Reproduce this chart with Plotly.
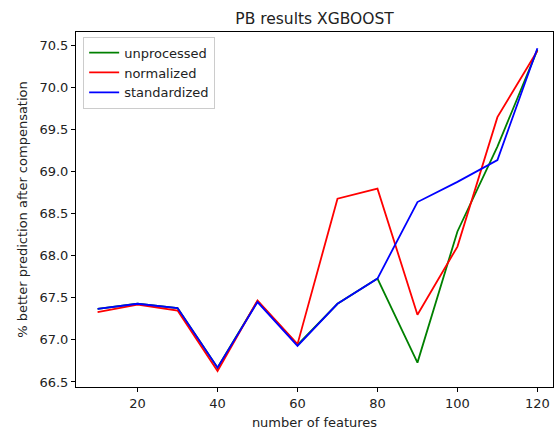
import plotly.graph_objects as go

# Number of features used by the model
n_features = [10, 20, 30, 40, 50, 60, 70, 80, 90, 100, 110, 120]

# % better prediction after compensation for each preprocessing variant
unprocessed = [67.37, 67.43, 67.38, 66.67, 67.46, 66.94, 67.43, 67.73, 66.73, 68.29, 69.30, 70.45]
normalized = [67.33, 67.42, 67.35, 66.63, 67.47, 66.95, 68.68, 68.80, 67.30, 68.11, 69.65, 70.44]
standardized = [67.37, 67.43, 67.38, 66.67, 67.45, 66.93, 67.43, 67.73, 68.64, 68.88, 69.14, 70.47]

y_ticks = [66.5, 67.0, 67.5, 68.0, 68.5, 69.0, 69.5, 70.0, 70.5]
x_ticks = [20, 40, 60, 80, 100, 120]

FONT = "DejaVu Sans"
TEXT = "#222"

fig = go.Figure()
for name, values, color in [
    ("unprocessed", unprocessed, "#008000"),
    ("normalized", normalized, "#ff0000"),
    ("standardized", standardized, "#0000ff"),
]:
    fig.add_trace(go.Scatter(
        x=n_features, y=values, mode="lines", name=name,
        line=dict(color=color, width=1.8),
    ))

axis_common = dict(
    showgrid=False, zeroline=False, showline=True, mirror=True,
    linecolor="black", linewidth=1,
    ticks="outside", ticklen=4, tickwidth=1, tickcolor="black",
    tickfont=dict(family=FONT, size=13, color=TEXT),
)

fig.update_layout(
    width=555, height=432,
    margin=dict(l=76, r=2, t=32, b=45),
    paper_bgcolor="white", plot_bgcolor="white",
    font=dict(family=FONT, size=13, color=TEXT),
    title=dict(text="PB results XGBOOST", x=0.5667, xanchor="center",
               y=0.958, yanchor="middle",
               font=dict(family=FONT, size=15.5, color=TEXT)),
    xaxis=dict(range=[4.6, 123.9], tickvals=x_ticks,
               title=dict(text="number of features", standoff=8,
                          font=dict(family=FONT, size=13, color=TEXT)),
               **axis_common),
    yaxis=dict(range=[66.44, 70.663], tickvals=y_ticks, tickformat=".1f",
               title=dict(text="% better prediction after compensation", standoff=8,
                          font=dict(family=FONT, size=13, color=TEXT)),
               **axis_common),
    legend=dict(x=0.015, y=0.987, xanchor="left", yanchor="top",
                bgcolor="rgba(255,255,255,0.8)", bordercolor="#cccccc",
                borderwidth=1, font=dict(family=FONT, size=13, color=TEXT),
                tracegroupgap=0, itemwidth=30),
    showlegend=True,
)

fig.write_html("out.html")
